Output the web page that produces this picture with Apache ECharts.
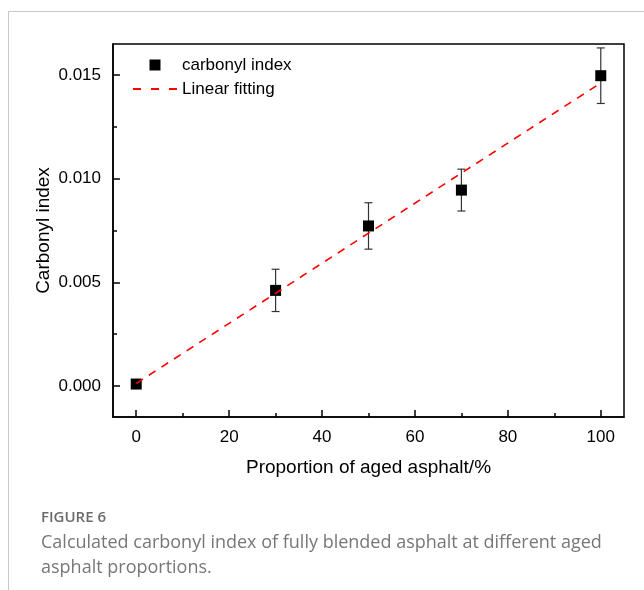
<!DOCTYPE html>
<html>
<head>
<meta charset="utf-8">
<script src="https://cdn.jsdelivr.net/npm/echarts@6/dist/echarts.min.js"></script>
<style>
  html, body { margin: 0; padding: 0; background: #fff; }
  #chart { width: 644px; height: 590px; }
</style>
</head>
<body>
<div id="chart"></div>
<script>
// Aged asphalt proportion (%) and measured carbonyl index
var proportions = [0, 30, 50, 70, 100];
var carbonylIndex = [0.00009, 0.00461, 0.00772, 0.00945, 0.01497];
var carbonylError = [0, 0.00102, 0.00112, 0.00101, 0.00134];

// Linear fit end points
var fitX = [0, 100];
var fitY = [0.00012, 0.01462];

// Axis ticks
var xMajorTicks = [0, 20, 40, 60, 80, 100];
var xMinorTicks = [10, 30, 50, 70, 90];
var yMajorTicks = [0, 0.005, 0.010, 0.015];
var yMinorTicks = [0.0025, 0.0075, 0.0125];

var FONT = '"Liberation Sans", Arial, sans-serif';
var CAPTION_FONT = '"Open Sans", sans-serif';

var pointData = proportions.map(function (p, i) { return [p, carbonylIndex[i]]; });
var errorData = proportions.map(function (p, i) {
  return [p, carbonylIndex[i] - carbonylError[i], carbonylIndex[i] + carbonylError[i]];
});
var fitData = fitX.map(function (x, i) { return [x, fitY[i]]; });

var chart = echarts.init(document.getElementById('chart'), null, { renderer: 'canvas' });

var xRange = { min: -5, max: 105 };
var yRange = { min: -0.0015, max: 0.0165 };

// Legend icons: filled square and a three-dash line
var squareIcon = 'path://M0 0H10V10H0Z';
var dashIcon = 'path://M0 0H8V2H0Z M18 0H26V2H18Z M36 0H44V2H36Z';

var option = {
  backgroundColor: '#ffffff',
  animation: false,
  grid: {
    left: 113, top: 44, right: 20, bottom: 173,
    show: true, borderColor: '#000', borderWidth: 1.5, backgroundColor: 'transparent'
  },
  legend: {
    orient: 'vertical',
    left: 133, top: 55, padding: 0,
    itemWidth: 44, itemHeight: 11, itemGap: 4,
    symbolKeepAspect: true,
    textStyle: { fontFamily: FONT, fontSize: 17, color: '#000', lineHeight: 20 },
    data: [
      { name: 'carbonyl index', icon: squareIcon },
      { name: 'Linear fitting', icon: dashIcon }
    ]
  },
  xAxis: [
    {
      type: 'value', min: xRange.min, max: xRange.max,
      name: 'Proportion of aged asphalt/%',
      nameLocation: 'middle', nameGap: 41, nameMoveOverlap: false,
      nameTextStyle: { fontFamily: FONT, fontSize: 19, color: '#000' },
      axisLine: { show: true, onZero: false, lineStyle: { color: '#000', width: 1.5 } },
      axisTick: { show: true, inside: true, length: 7, customValues: xMajorTicks, lineStyle: { color: '#000', width: 1.5 } },
      axisLabel: { customValues: xMajorTicks, margin: 12, fontFamily: FONT, fontSize: 17, color: '#000' },
      splitLine: { show: false }
    },
    {
      type: 'value', min: xRange.min, max: xRange.max, position: 'bottom',
      axisLine: { show: false, onZero: false },
      axisTick: { show: true, inside: true, length: 4, customValues: xMinorTicks, lineStyle: { color: '#000', width: 1.5 } },
      axisLabel: { show: false },
      splitLine: { show: false }
    }
  ],
  yAxis: [
    {
      type: 'value', min: yRange.min, max: yRange.max,
      name: 'Carbonyl index',
      nameLocation: 'middle', nameGap: 60, nameMoveOverlap: false,
      nameTextStyle: { fontFamily: FONT, fontSize: 19, color: '#000' },
      axisLine: { show: true, onZero: false, lineStyle: { color: '#000', width: 1.5 } },
      axisTick: { show: true, inside: true, length: 7, customValues: yMajorTicks, lineStyle: { color: '#000', width: 1.5 } },
      axisLabel: {
        customValues: yMajorTicks, margin: 12, fontFamily: FONT, fontSize: 17, color: '#000',
        formatter: function (v) { return v.toFixed(3); }
      },
      splitLine: { show: false }
    },
    {
      type: 'value', min: yRange.min, max: yRange.max, position: 'left',
      axisLine: { show: false, onZero: false },
      axisTick: { show: true, inside: true, length: 4, customValues: yMinorTicks, lineStyle: { color: '#000', width: 1.5 } },
      axisLabel: { show: false },
      splitLine: { show: false }
    }
  ],
  series: [
    {
      name: 'error',
      type: 'custom',
      xAxisIndex: 0, yAxisIndex: 0,
      z: 2,
      data: errorData,
      renderItem: function (params, api) {
        var x = api.value(0);
        var lo = api.coord([x, api.value(1)]);
        var hi = api.coord([x, api.value(2)]);
        var half = 4;
        var style = { stroke: '#333', lineWidth: 1.2 };
        return {
          type: 'group',
          children: [
            { type: 'line', shape: { x1: lo[0], y1: lo[1], x2: hi[0], y2: hi[1] }, style: style },
            { type: 'line', shape: { x1: hi[0] - half, y1: hi[1], x2: hi[0] + half, y2: hi[1] }, style: style },
            { type: 'line', shape: { x1: lo[0] - half, y1: lo[1], x2: lo[0] + half, y2: lo[1] }, style: style }
          ]
        };
      }
    },
    {
      name: 'carbonyl index',
      type: 'scatter',
      xAxisIndex: 0, yAxisIndex: 0,
      z: 3,
      symbol: 'rect',
      symbolSize: 11,
      itemStyle: { color: '#000', opacity: 1 },
      data: pointData
    },
    {
      name: 'Linear fitting',
      type: 'line',
      xAxisIndex: 0, yAxisIndex: 0,
      z: 4,
      showSymbol: false,
      symbol: 'none',
      itemStyle: { color: '#ff0000' },
      lineStyle: { color: '#ff0000', width: 1.6, type: [8, 7] },
      data: fitData
    }
  ],
  graphic: [
    {
      type: 'polyline', silent: true,
      shape: { points: [[8.5, 590], [8.5, 11.5], [644, 11.5]] },
      style: { stroke: '#c8c8c8', lineWidth: 1, fill: null }
    },
    {
      type: 'text', left: 41, top: 510,
      style: { text: 'FIGURE 6', fontFamily: CAPTION_FONT, fontSize: 15, fontWeight: 600, fill: '#6b6b6b' }
    },
    {
      type: 'text', left: 41, top: 530,
      style: {
        text: 'Calculated carbonyl index of fully blended asphalt at different aged\nasphalt proportions.',
        fontFamily: CAPTION_FONT, fontSize: 18, lineHeight: 25, fill: '#777777'
      }
    }
  ]
};

chart.setOption(option);
</script>
</body>
</html>
